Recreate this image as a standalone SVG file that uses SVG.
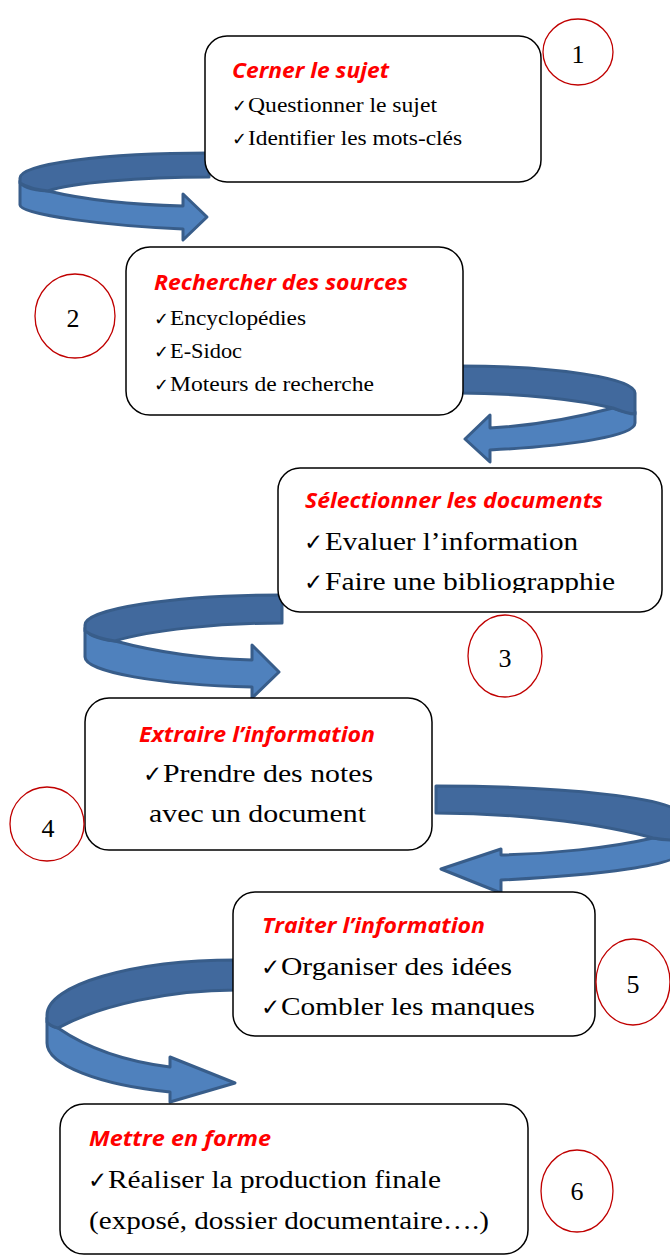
<svg xmlns="http://www.w3.org/2000/svg" width="670" height="1256" viewBox="0 0 670 1256">
<style>
.bg{fill:#ffffff}
.box{fill:#ffffff;stroke:#000000;stroke-width:1.5}
.num{fill:none;stroke:#C00000;stroke-width:1.3}
.dark{fill:#41699D;stroke:#385D8A;stroke-width:3;stroke-linejoin:round}
.light{fill:#4F81BD;stroke:#385D8A;stroke-width:3;stroke-linejoin:round}
.title{font-family:"Open Sans","Liberation Sans",sans-serif;font-weight:bold;font-style:italic;font-size:21px;fill:#FF0000}
.t1{font-family:"Liberation Serif","DejaVu Serif",serif;font-size:20px;fill:#000000}
.t2{font-family:"Liberation Serif","DejaVu Serif",serif;font-size:26px;fill:#000000}
.ck1{font-size:18px}
.ck2{font-size:23px}
.n{font-family:"Liberation Serif","DejaVu Serif",serif;font-size:26px;fill:#000000;text-anchor:middle}
</style>
<defs>
<clipPath id="clip3"><rect x="0" y="0" width="670" height="593"/></clipPath>
<clipPath id="clip5"><rect x="0" y="0" width="670" height="1018"/></clipPath>
</defs>
<rect class="bg" x="0" y="0" width="670" height="1256"/>
<g id="connectors">
  <g id="arrow1">
    <path class="light" d="M20,181 Q22,190 48,191 C90,201 140,205 183,206 L183,194 L207,217 L183,240 L183,229 C110,226 20,215 20,205 Z"/>
    <path class="dark" d="M209,153 C103,153 20,164 20,178 L20,183 Q30,189 48,191 C70,183 140,177 209,177 Z"/>
  </g>
  <g id="arrow2">
    <path class="light" d="M635,412 Q630,414 613,408 C575,418 530,426 490,428 L490,415 L465,439 L490,462 L490,450 C570,446 635,436 635,423 Z"/>
    <path class="dark" d="M459,366 C556,366 635,378 635,393 L635,414 Q628,414 613,408 C580,400 520,393 459,393 Z"/>
  </g>
  <g id="arrow3">
    <path class="light" d="M85,628 Q88,638 115,641 C160,653 210,659 252,660 L252,645 L279,672 L252,698 L252,687 C160,685 85,672 85,657 Z"/>
    <path class="dark" d="M282,595 C172,595 85,609 85,625 L85,631 Q95,638 115,641 C150,630 220,623 282,623 Z"/>
  </g>
  <g id="arrow4">
    <path class="light" d="M680,835 Q670,841 653,838 C610,848 550,854 501,855 L501,849 L441,869 L501,893 L501,880 C600,875 680,865 680,852 Z"/>
    <path class="dark" d="M436,786 C560,786 680,798 680,815 L680,840 Q670,841 653,838 C610,826 530,813 436,813 Z"/>
  </g>
  <g id="arrow5">
    <path class="light" d="M47,1018 Q48,1026 58,1028 C90,1050 130,1062 170,1067 L170,1057 L235,1083 L170,1102 L170,1092 C100,1085 47,1065 47,1043 Z"/>
    <path class="dark" d="M236,960 C132,960 47,985 47,1015 L47,1022 Q50,1026 58,1028 C100,1005 170,990 236,990 Z"/>
  </g>
</g>
<g id="node1">
  <rect class="box" x="205" y="36" width="336" height="146" rx="22"/>
  <text class="title" x="232" y="78" textLength="157" lengthAdjust="spacingAndGlyphs">Cerner le sujet</text>
  <text class="t1" y="112"><tspan class="ck1" x="232">✓</tspan><tspan x="248" textLength="189" lengthAdjust="spacingAndGlyphs">Questionner le sujet</tspan></text>
  <text class="t1" y="145"><tspan class="ck1" x="232">✓</tspan><tspan x="248" textLength="214" lengthAdjust="spacingAndGlyphs">Identifier les mots-clés</tspan></text>
</g>
<g id="node2">
  <rect class="box" x="126" y="247" width="337" height="168" rx="24"/>
  <text class="title" x="154" y="290" textLength="254" lengthAdjust="spacingAndGlyphs">Rechercher des sources</text>
  <text class="t1" y="325"><tspan class="ck1" x="154">✓</tspan><tspan x="170" textLength="136" lengthAdjust="spacingAndGlyphs">Encyclopédies</tspan></text>
  <text class="t1" y="358"><tspan class="ck1" x="154">✓</tspan><tspan x="170" textLength="72" lengthAdjust="spacingAndGlyphs">E-Sidoc</tspan></text>
  <text class="t1" y="391"><tspan class="ck1" x="154">✓</tspan><tspan x="170" textLength="204" lengthAdjust="spacingAndGlyphs">Moteurs de recherche</tspan></text>
</g>
<g id="node3">
  <rect class="box" x="278" y="468" width="384" height="144" rx="22"/>
  <text class="title" x="305" y="508" textLength="298" lengthAdjust="spacingAndGlyphs">Sélectionner les documents</text>
  <text class="t2" y="550"><tspan class="ck2" x="304">✓</tspan><tspan x="325" textLength="253" lengthAdjust="spacingAndGlyphs">Evaluer l’information</tspan></text>
  <text class="t2" y="590" clip-path="url(#clip3)"><tspan class="ck2" x="304">✓</tspan><tspan x="325" textLength="290" lengthAdjust="spacingAndGlyphs">Faire une bibliograpphie</tspan></text>
</g>
<g id="node4">
  <rect class="box" x="85" y="698" width="347" height="152" rx="24"/>
  <text class="title" x="139" y="742" textLength="236" lengthAdjust="spacingAndGlyphs">Extraire l’information</text>
  <text class="t2" y="782"><tspan class="ck2" x="143">✓</tspan><tspan x="163" textLength="210" lengthAdjust="spacingAndGlyphs">Prendre des notes</tspan></text>
  <text class="t2" x="149" y="822" textLength="217" lengthAdjust="spacingAndGlyphs">avec un document</text>
</g>
<g id="node5">
  <rect class="box" x="233" y="892" width="362" height="144" rx="22"/>
  <text class="title" x="262" y="933" textLength="223" lengthAdjust="spacingAndGlyphs">Traiter l’information</text>
  <text class="t2" y="975"><tspan class="ck2" x="261">✓</tspan><tspan x="281" textLength="231" lengthAdjust="spacingAndGlyphs">Organiser des idées</tspan></text>
  <text class="t2" y="1015" clip-path="url(#clip5)"><tspan class="ck2" x="261">✓</tspan><tspan x="281" textLength="254" lengthAdjust="spacingAndGlyphs">Combler les manques</tspan></text>
</g>
<g id="node6">
  <rect class="box" x="60" y="1104" width="468" height="150" rx="24"/>
  <text class="title" x="89" y="1146" textLength="182" lengthAdjust="spacingAndGlyphs">Mettre en forme</text>
  <text class="t2" y="1188"><tspan class="ck2" x="88">✓</tspan><tspan x="108" textLength="333" lengthAdjust="spacingAndGlyphs">Réaliser la production finale</tspan></text>
  <text class="t2" x="89" y="1229" textLength="400" lengthAdjust="spacingAndGlyphs">(exposé, dossier documentaire….)</text>
</g>
<g id="num1"><ellipse class="num" cx="578" cy="52" rx="35" ry="33"/><text class="n" x="578" y="63">1</text></g>
<g id="num2"><ellipse class="num" cx="75" cy="316" rx="40" ry="42"/><text class="n" x="73" y="327">2</text></g>
<g id="num3"><ellipse class="num" cx="505" cy="656" rx="37" ry="41"/><text class="n" x="505" y="667">3</text></g>
<g id="num4"><ellipse class="num" cx="47" cy="824" rx="37" ry="37"/><text class="n" x="48" y="837">4</text></g>
<g id="num5"><ellipse class="num" cx="633" cy="982" rx="37" ry="43"/><text class="n" x="633" y="993">5</text></g>
<g id="num6"><ellipse class="num" cx="577" cy="1191" rx="36" ry="41"/><text class="n" x="577" y="1200">6</text></g>
</svg>
